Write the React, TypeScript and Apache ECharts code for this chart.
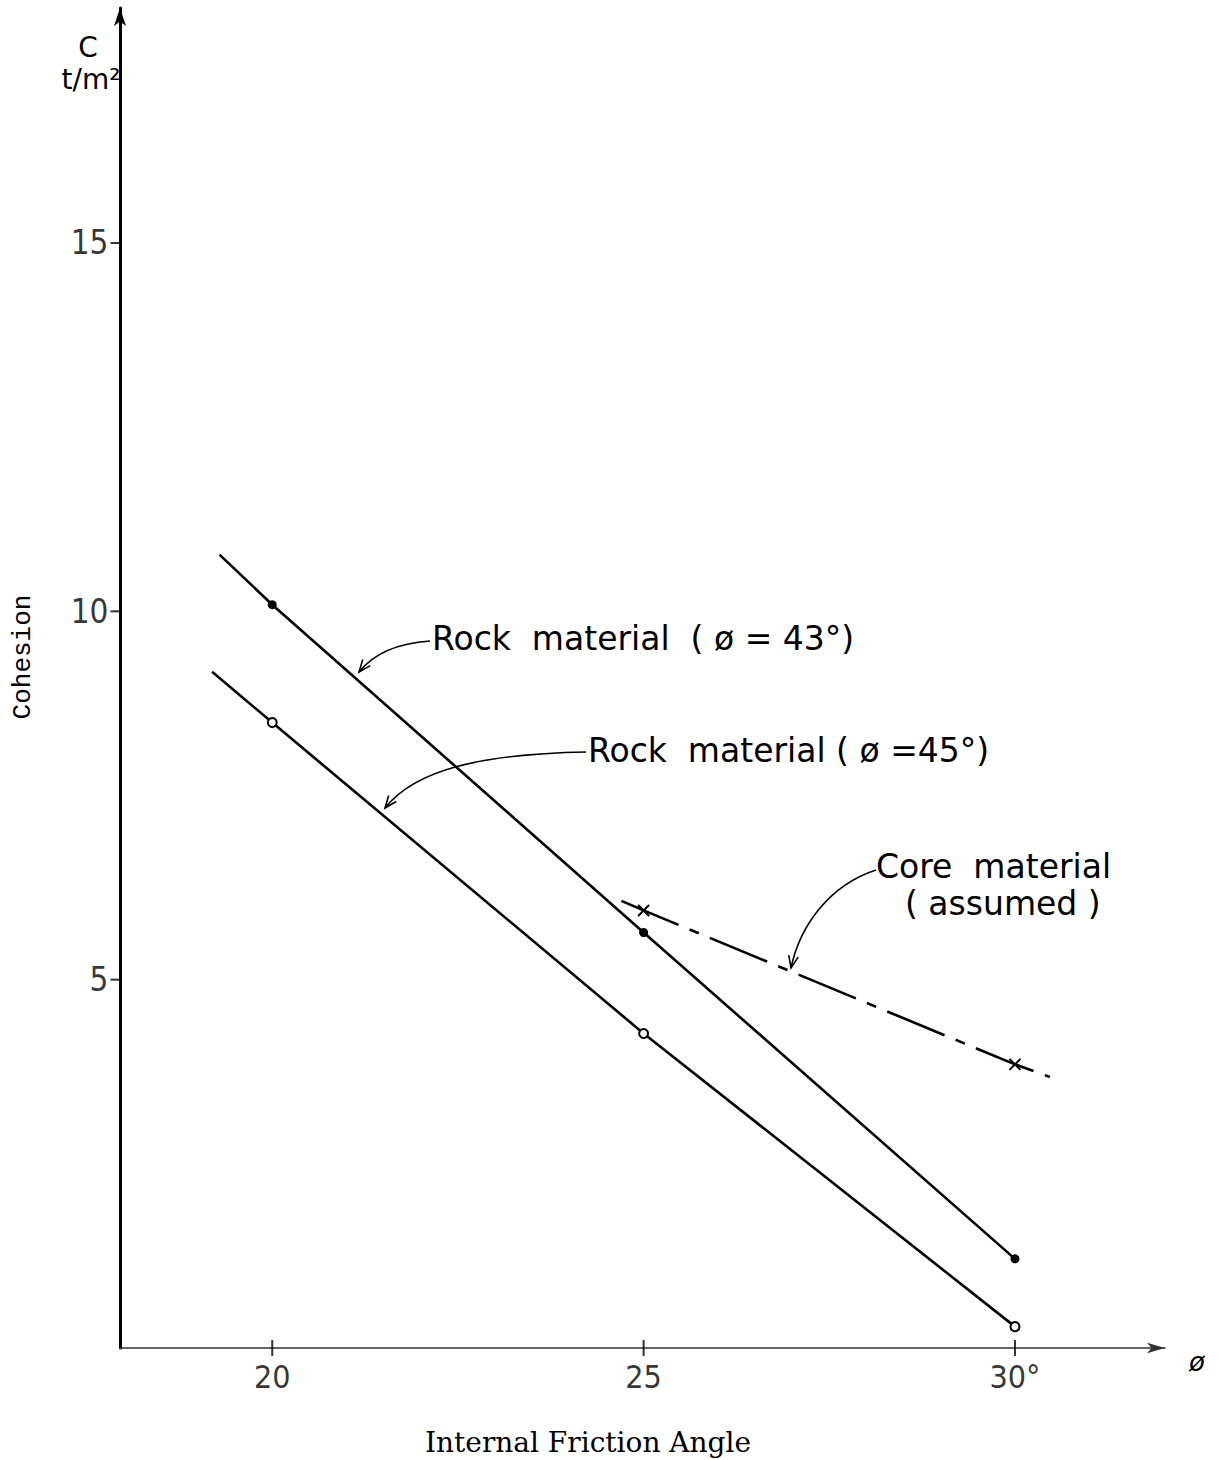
import React, { useEffect, useRef } from "react";
import * as echarts from "echarts";

// Axis ranges and ticks
const xMin = 17.95;
const xMax = 32.02;
const yMin = 0;
const yMax = 18.19;
const xTicks = [20, 25, 30];
const xTickLabels = ["20", "25", "30°"];
const yTicks = [5, 10, 15];
const yTickLabels = ["5", "10", "15"];

// Series (x = internal friction angle, y = cohesion t/m²)
const rock43Start = [19.29, 10.77];
const rock43Points = [
  [20, 10.09],
  [25, 5.64],
  [30, 1.21],
];
const rock45Start = [19.19, 9.18];
const rock45Points = [
  [20, 8.49],
  [25, 4.27],
  [30, 0.29],
];
const coreStart = [24.7, 6.07];
const corePoints = [
  [25, 5.94],
  [30, 3.85],
];
const coreEnd = [30.47, 3.68];

const SANS = "'DejaVu Sans', 'Liberation Sans', sans-serif";
const COND = "'DejaVu Sans Condensed', 'Liberation Sans Narrow', 'DejaVu Sans', sans-serif";

function arrowHead(tx: number, ty: number, fx: number, fy: number) {
  const a = Math.atan2(ty - fy, tx - fx);
  const L = 13;
  const t = 0.38;
  return [
    [tx - L * Math.cos(a - t), ty - L * Math.sin(a - t)],
    [tx, ty],
    [tx - L * Math.cos(a + t), ty - L * Math.sin(a + t)],
  ];
}

function leader(x1: number, y1: number, c1x: number, c1y: number, c2x: number, c2y: number, x2: number, y2: number) {
  return [
    {
      type: "bezierCurve",
      shape: { x1, y1, cpx1: c1x, cpy1: c1y, cpx2: c2x, cpy2: c2y, x2, y2 },
      style: { stroke: "#000", lineWidth: 1.6, fill: "none" },
    },
    {
      type: "polyline",
      shape: { points: arrowHead(x2, y2, c2x, c2y) },
      style: { stroke: "#000", lineWidth: 1.6, fill: "none" },
    },
  ];
}

function label(text: string, x: number, y: number, size = 32, align = "left", extra: any = {}) {
  return {
    type: "text",
    x,
    y,
    style: {
      text,
      fill: "#000",
      font: `${size}px ${SANS}`,
      textAlign: align,
      textVerticalAlign: "middle",
      ...extra,
    },
  };
}

export default function App() {
  const ref = useRef<HTMLDivElement>(null);

  useEffect(() => {
    if (!ref.current) return;
    const chart = echarts.init(ref.current, null, { renderer: "svg" });

    const lineStyle = { color: "#000", width: 2.6 };

    const option: any = {
      animation: false,
      backgroundColor: "#fff",
      grid: { left: 120, right: 54, top: 8, bottom: 112 },
      xAxis: {
        type: "value",
        min: xMin,
        max: xMax,
        splitLine: { show: false },
        axisLabel: { show: false },
        axisTick: { show: false },
        axisLine: {
          show: true,
          onZero: false,
          symbol: ["none", "arrow"],
          symbolSize: [8, 18],
          lineStyle: { color: "#333", width: 1.5 },
        },
      },
      yAxis: {
        type: "value",
        min: yMin,
        max: yMax,
        splitLine: { show: false },
        axisLabel: { show: false },
        axisTick: { show: false },
        axisLine: {
          show: true,
          onZero: false,
          symbol: ["none", "arrow"],
          symbolSize: [9, 18],
          lineStyle: { color: "#000", width: 3 },
        },
      },
      series: [
        {
          name: "Rock material (ø = 43°)",
          type: "line",
          data: [
            { value: rock43Start, symbol: "none" },
            ...rock43Points.map((p) => ({ value: p })),
          ],
          symbol: "circle",
          symbolSize: 9,
          itemStyle: { color: "#000" },
          lineStyle,
          z: 3,
        },
        {
          name: "Rock material (ø = 45°)",
          type: "line",
          data: [
            { value: rock45Start, symbol: "none" },
            ...rock45Points.map((p) => ({ value: p })),
          ],
          symbol: "emptyCircle",
          symbolSize: 9,
          itemStyle: { color: "#000", borderWidth: 1.8 },
          lineStyle,
          z: 3,
        },
        {
          name: "Core material (assumed)",
          type: "line",
          data: [
            { value: coreStart, symbol: "none" },
            ...corePoints.map((p) => ({ value: p })),
            { value: coreEnd, symbol: "none" },
          ],
          symbol: "path://M0,0L10,10M10,0L0,10",
          symbolSize: 11,
          itemStyle: { color: "none", borderColor: "#000", borderWidth: 2 },
          lineStyle: { color: "#000", width: 2.6, type: [62, 12, 10, 12] },
          z: 3,
        },
        {
          name: "xTicks",
          type: "scatter",
          clip: false,
          silent: true,
          data: xTicks.map((v, i) => ({ name: xTickLabels[i], value: [v, yMin] })),
          symbol: "rect",
          symbolSize: [2, 16],
          itemStyle: { color: "#000" },
          label: {
            show: true,
            position: "bottom",
            distance: 5,
            formatter: "{b}",
            color: "#000",
            fontSize: 32,
            fontFamily: COND,
          },
        },
        {
          name: "yTicks",
          type: "scatter",
          clip: false,
          silent: true,
          data: yTicks.map((v, i) => ({ name: yTickLabels[i], value: [xMin, v] })),
          symbol: "rect",
          symbolSize: [9, 2],
          symbolOffset: [-5, 0],
          itemStyle: { color: "#000" },
          label: {
            show: true,
            position: "left",
            distance: 2,
            formatter: "{b}",
            color: "#000",
            fontSize: 33,
            fontFamily: COND,
          },
        },
      ],
      graphic: [
        label("C", 88, 47, 28, "center"),
        label("t/m²", 91, 79, 28, "center"),
        {
          type: "text",
          x: 23,
          y: 657,
          rotation: Math.PI / 2,
          style: {
            text: "Cohesion",
            fill: "#000",
            font: "26px 'Liberation Mono', 'DejaVu Sans Mono', monospace",
            textAlign: "center",
            textVerticalAlign: "middle",
          },
        },
        {
          type: "text",
          x: 588,
          y: 1442,
          style: {
            text: "Internal Friction Angle",
            fill: "#000",
            font: "28px 'DejaVu Serif', 'Liberation Serif', serif",
            textAlign: "center",
            textVerticalAlign: "middle",
          },
        },
        label("ø", 1197, 1362, 26, "center", { font: `italic 26px ${SANS}` }),
        label("Rock  material  ( ø = 43°)", 432, 638, 33),
        label("Rock  material ( ø =45°)", 588, 750, 33),
        label("Core  material", 876, 866, 33),
        label("( assumed )", 905, 903, 33),
        ...leader(430, 641, 400, 643, 375, 652, 359, 672),
        ...leader(586, 752, 480, 754, 415, 770, 385, 808),
        ...leader(876, 870, 830, 885, 800, 925, 791, 968),
      ],
    };

    chart.setOption(option);
    return () => chart.dispose();
  }, []);

  return (
    <div
      ref={ref}
      style={{ position: "absolute", left: 0, top: 0, width: 1219, height: 1460, background: "#fff" }}
    />
  );
}
